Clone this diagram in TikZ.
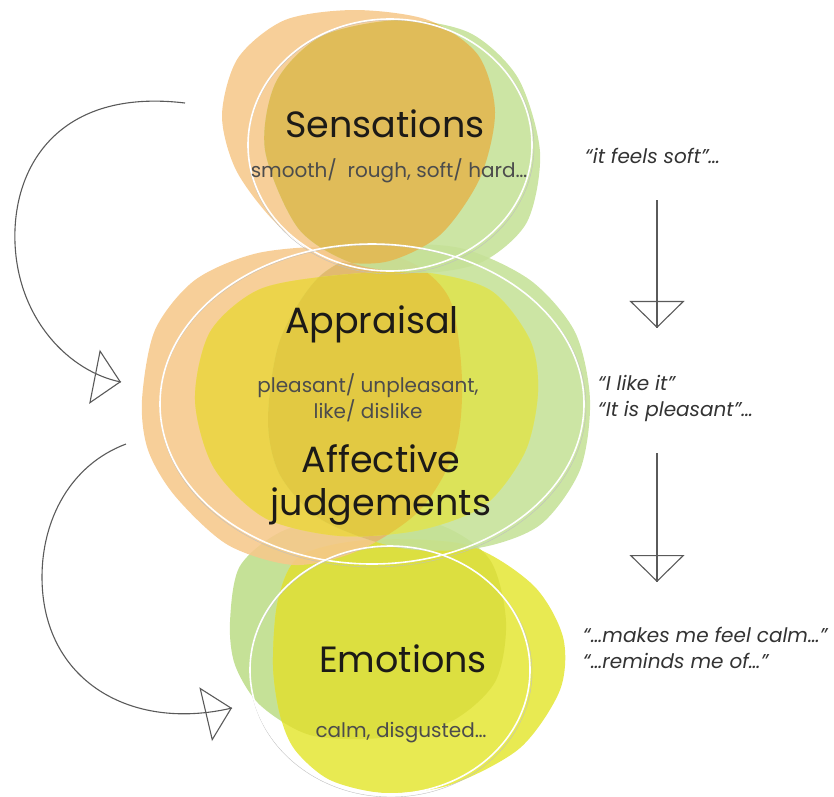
\documentclass[tikz,border=0pt]{standalone}
\usepackage{fontspec}
\setmainfont{Poppins}
\usepackage{tikz}
\usetikzlibrary{arrows.meta, decorations.markings}
\definecolor{peachlight}{HTML}{F6C88B}
\definecolor{sagelight}{HTML}{C5E197}
\definecolor{ambermix}{HTML}{E4B851}
\definecolor{tanmix}{HTML}{E6B66C}
\definecolor{lemonlight}{HTML}{E8EA52}
\definecolor{goldmix}{HTML}{EDD24A}
\definecolor{limemix}{HTML}{DCE35A}
\definecolor{ochremix}{HTML}{E3C640}
\definecolor{lemondeep}{HTML}{DCDF40}
\definecolor{inkgray}{HTML}{5A5A5A}
\definecolor{textdark}{HTML}{1C1A17}
% blob outlines (pixel grid, y downwards)
\newcommand{\sensOrange}{plot[smooth cycle] coordinates {(222,115) (238,58) (285,20) (355,10) (428,20) (478,55) (495,112) (480,178) (440,235) (385,262) (325,258) (275,222) (236,170)}}
\newcommand{\sensGreen}{plot[smooth cycle] coordinates {(265,150) (276,82) (322,36) (400,20) (470,33) (518,78) (540,152) (527,222) (482,262) (420,273) (352,263) (298,228)}}
\newcommand{\apprOrange}{plot[smooth cycle] coordinates {(142,400) (155,330) (195,280) (258,253) (340,247) (410,262) (450,300) (462,380) (455,450) (420,510) (360,550) (295,565) (228,545) (175,496) (148,450)}}
\newcommand{\apprYellow}{plot[smooth cycle] coordinates {(195,400) (210,332) (258,290) (330,276) (420,272) (490,290) (530,340) (538,392) (525,452) (485,505) (420,530) (340,536) (265,518) (214,468)}}
\newcommand{\apprGreen}{plot[smooth cycle] coordinates {(268,420) (280,340) (320,276) (382,247) (460,248) (530,280) (575,332) (590,400) (580,470) (540,525) (478,548) (400,548) (322,520) (280,475)}}
\newcommand{\emotGreen}{plot[smooth cycle] coordinates {(230,622) (240,566) (285,530) (360,515) (440,525) (490,560) (506,622) (495,682) (450,722) (380,738) (310,735) (260,705) (235,665)}}
\newcommand{\emotYellow}{plot[smooth cycle] coordinates {(273,665) (278,600) (300,556) (367,540) (467,545) (533,585) (563,637) (560,690) (520,748) (450,785) (385,793) (330,780) (295,750) (280,715)}}
\tikzset{
  title/.style={font=\fontsize{36.5}{43}\selectfont, text=textdark, anchor=base, align=center, inner sep=0pt},
  note/.style={font=\fontsize{20}{26}\selectfont, text=black!70, anchor=base, align=center, inner sep=0pt},
  quote/.style={font=\itshape\fontsize{20}{26}\selectfont, text=black!80, anchor=base west, align=left, inner sep=0pt},
  ring/.style={draw=white, line width=1.6pt},
  rimshade/.style={draw=black!25, line width=0.4pt},
  flow/.style={draw=inkgray, line width=1.1pt, postaction={decorate},
    decoration={markings, mark=at position 0.9999 with {\arrow{Triangle[open, length=27pt, width=55pt]}}}},
}

\begin{document}
\begin{tikzpicture}[x=1pt, y=-1pt]
  \useasboundingbox (0,0) rectangle (834,796);
  % emotions
  \fill[sagelight] \emotGreen;
  \fill[lemonlight] \emotYellow;
  \begin{scope} \clip \emotGreen; \fill[lemondeep] \emotYellow; \end{scope}
  % appraisal
  \begin{scope}[fill opacity=0.88]
    \fill[peachlight] \apprOrange;
    \fill[sagelight] \apprGreen;
    \begin{scope} \clip \apprGreen; \fill[tanmix] \apprOrange; \end{scope}
    \fill[lemonlight] \apprYellow;
    \begin{scope} \clip \apprOrange; \fill[goldmix] \apprYellow; \end{scope}
    \begin{scope} \clip \apprGreen; \fill[limemix] \apprYellow; \end{scope}
    \begin{scope} \clip \apprOrange; \clip \apprGreen; \fill[ochremix] \apprYellow; \end{scope}
  \end{scope}
  % sensations
  \begin{scope}[fill opacity=0.88]
    \fill[peachlight] \sensOrange;
    \fill[sagelight] \sensGreen;
    \begin{scope} \clip \sensGreen; \fill[ambermix] \sensOrange; \end{scope}
  \end{scope}
  % rings
  \foreach \cx/\cy/\rx/\ry in {390/145/142/126, 372/404/212/160, 390/670/140/124} {
    \draw[rimshade] (\cx+1,\cy+2) ellipse [x radius=\rx+1, y radius=\ry+1];
    \draw[ring] (\cx,\cy) ellipse [x radius=\rx, y radius=\ry];
  }
  % labels
  \node[title] (sens) at (385,137) {Sensations};
  \node[note] (sensnote) at (389,177) {smooth/~ rough, soft/ hard…};
  \node[title] (appr) at (372,333) {Appraisal};
  \node[note] (apprnote) at (368,418) {pleasant/ unpleasant,\\like/ dislike};
  \node[title] (affect) at (381,515) {Affective\\judgements};
  \node[title] (emot) at (403,672) {Emotions};
  \node[note] (emotnote) at (401,737) {calm, disgusted…};
  \node[quote] (qsoft) at (585,163) {“it feels soft”…};
  \node[quote] (qlike) at (598,416) {“I like it”\\“It is pleasant”…};
  \node[quote] (qcalm) at (583,668) {“…makes me feel calm…”\\“…reminds me of…”};
  % arrows
  \coordinate (dA) at (657,200); \coordinate (dAtip) at (657,328);
  \coordinate (dB) at (657,453); \coordinate (dBtip) at (657,582);
  \draw[flow] (dA) -- (dAtip);
  \draw[flow] (dB) -- (dBtip);
  \coordinate (loopA) at (185,103); \coordinate (loopAtip) at (121,382);
  \coordinate (loopB) at (126,444); \coordinate (loopBtip) at (232,708);
  \draw[flow] (loopA) .. controls (60,88) and (12,165) .. (15,243) .. controls (18,320) and (70,372) .. (loopAtip);
  \draw[flow] (loopB) .. controls (70,465) and (42,520) .. (42,577) .. controls (42,680) and (130,732) .. (loopBtip);
\end{tikzpicture}
\end{document}
